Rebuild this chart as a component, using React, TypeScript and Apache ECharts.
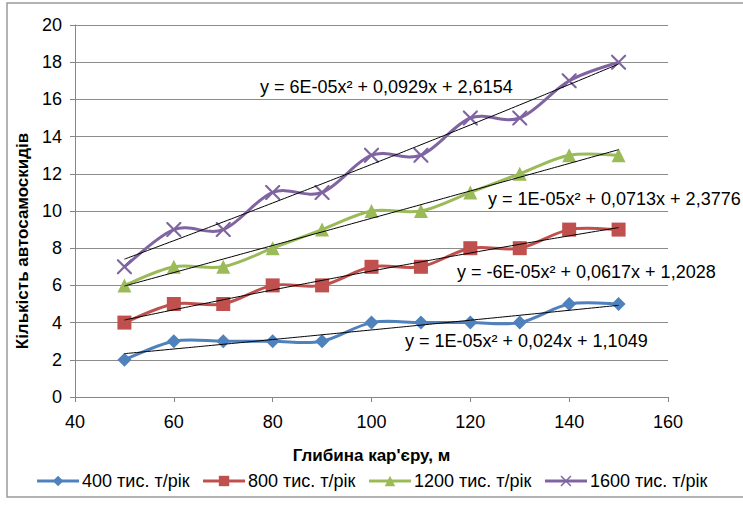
import React, { useEffect, useRef } from "react";
import * as echarts from "echarts";

const depths = [50, 60, 70, 80, 90, 100, 110, 120, 130, 140, 150];
const s400 = [2, 3, 3, 3, 3, 4, 4, 4, 4, 5, 5];
const s800 = [4, 5, 5, 6, 6, 7, 7, 8, 8, 9, 9];
const s1200 = [6, 7, 7, 8, 9, 10, 10, 11, 12, 13, 13];
const s1600 = [7, 9, 9, 11, 11, 13, 13, 15, 15, 17, 18];
const seriesNames = ["400 тис. т/рік", "800 тис. т/рік", "1200 тис. т/рік", "1600 тис. т/рік"];
// trendline coefficients [a, b, c] : y = a x^2 + b x + c (as displayed)
const trend400 = [1e-5, 0.024, 1.1049];
const trend800 = [-6e-5, 0.0617, 1.2028];
const trend1200 = [1e-5, 0.0713, 2.3776];
const trend1600 = [6e-5, 0.0929, 2.6154];
const eqTexts = [
  "y = 1E-05x² + 0,024x + 1,1049",
  "y = -6E-05x² + 0,0617x + 1,2028",
  "y = 1E-05x² + 0,0713x + 2,3776",
  "y = 6E-05x² + 0,0929x + 2,6154",
];

const colors = ["#4F81BD", "#C0504D", "#9BBB59", "#8064A2"];
const xPath = "path://M0,0 L1,0 L5,4 L9,0 L10,0 L10,1 L6,5 L10,9 L10,10 L9,10 L5,6 L1,10 L0,10 L0,9 L4,5 L0,1 Z";
const symbols = ["diamond", "rect", "triangle", xPath];
const symbolSizes = [14, 14, 14, 15];

function splinePath(pts: number[][]): string {
  // Excel-like smoothed line (Catmull-Rom converted to cubic Bezier)
  let d = `M${pts[0][0]},${pts[0][1]}`;
  for (let i = 0; i < pts.length - 1; i++) {
    const p0 = pts[i - 1] || pts[i];
    const p1 = pts[i];
    const p2 = pts[i + 1];
    const p3 = pts[i + 2] || p2;
    const k = 1 / 6;
    const c1x = p1[0] + (p2[0] - p0[0]) * k;
    const c1y = p1[1] + (p2[1] - p0[1]) * k;
    const c2x = p2[0] - (p3[0] - p1[0]) * k;
    const c2y = p2[1] - (p3[1] - p1[1]) * k;
    d += ` C${c1x},${c1y} ${c2x},${c2y} ${p2[0]},${p2[1]}`;
  }
  return d;
}

export default function App() {
  const ref = useRef<HTMLDivElement>(null);
  useEffect(() => {
    if (!ref.current) return;
    const chart = echarts.init(ref.current, undefined, { renderer: "svg" });
    const data = [s400, s800, s1200, s1600];
    const trends = [trend400, trend800, trend1200, trend1600];
    const font = "Liberation Sans";
    const series: any[] = [];
    data.forEach((d, i) => {
      const pairs = depths.map((x, j) => [x, d[j]]);
      series.push({
        name: "smooth" + i,
        type: "custom",
        coordinateSystem: "cartesian2d",
        data: pairs,
        z: 2,
        silent: true,
        renderItem: (params: any, api: any) => {
          if (params.dataIndex !== 0) return null;
          const pts = pairs.map((p) => api.coord(p));
          return {
            type: "path",
            shape: { pathData: splinePath(pts) },
            style: { stroke: colors[i], lineWidth: 3, fill: "none" },
          };
        },
      });
      series.push({
        name: seriesNames[i],
        type: "line",
        data: pairs,
        symbol: symbols[i],
        symbolSize: symbolSizes[i],
        lineStyle: { color: colors[i], width: 3, opacity: 0 },
        itemStyle: { color: colors[i] },
        z: 3,
      });
    });
    trends.forEach((t, i) => {
      series.push({
        name: "trend" + i,
        type: "line",
        data: depths.map((x) => [x, t[0] * x * x + t[1] * x + t[2]]),
        smooth: true,
        symbol: "none",
        lineStyle: { color: "#000", width: 1 },
        z: 4,
        silent: true,
      });
    });
    const eqPos = [
      { left: 405, top: 332 },
      { left: 457, top: 263 },
      { left: 488, top: 190 },
      { left: 260, top: 78 },
    ];
    chart.setOption({
      animation: false,
      backgroundColor: "#fff",
      grid: { left: 75, right: 75, top: 25, bottom: 109 },
      xAxis: {
        type: "value",
        min: 40,
        max: 160,
        interval: 20,
        name: "Глибина кар'єру, м",
        nameLocation: "middle",
        nameGap: 50,
        nameTextStyle: { fontFamily: font, fontWeight: "bold", fontSize: 17, color: "#000" },
        axisLine: { lineStyle: { color: "#868686" } },
        axisTick: { show: true, length: 5, lineStyle: { color: "#868686" } },
        axisLabel: { fontFamily: font, fontSize: 18, color: "#000", margin: 16 },
        splitLine: { show: false },
      },
      yAxis: {
        type: "value",
        min: 0,
        max: 20,
        interval: 2,
        name: "Кількість автосамоскидів",
        nameLocation: "middle",
        nameGap: 44,
        nameRotate: 90,
        nameTextStyle: { fontFamily: font, fontWeight: "bold", fontSize: 17, color: "#000", padding: [0, 0, 0, -60] },
        axisLine: { show: true, lineStyle: { color: "#868686" } },
        axisTick: { show: true, length: 5, lineStyle: { color: "#868686" } },
        axisLabel: { fontFamily: font, fontSize: 18, color: "#000", margin: 13 },
        splitLine: { lineStyle: { color: "#8c8c8c" } },
      },
      legend: {
        bottom: 11,
        left: "center",
        data: seriesNames.map((n, i) => ({
          name: n,
          lineStyle: { color: colors[i], width: 3, opacity: 1 },
        })),
        itemWidth: 42,
        itemHeight: 13,
        itemGap: 12,
        textStyle: { fontFamily: font, fontSize: 18, color: "#000", padding: [0, 0, 0, -2] },
      },
      graphic: [
        {
          type: "rect",
          shape: { x: 7, y: 3, width: 760, height: 494 },
          style: { fill: "none", stroke: "#9a9a9a", lineWidth: 1.5 },
          silent: true,
        },
        ...eqTexts.map((t, i) => ({
          type: "text",
          left: eqPos[i].left,
          top: eqPos[i].top,
          z: 10,
          style: { text: t, fontFamily: font, fontSize: 18, fill: "#000" },
        })),
      ],
      series,
    });
    return () => chart.dispose();
  }, []);
  return <div ref={ref} style={{ width: 743, height: 506, position: "absolute", left: 0, top: 0 }} />;
}
